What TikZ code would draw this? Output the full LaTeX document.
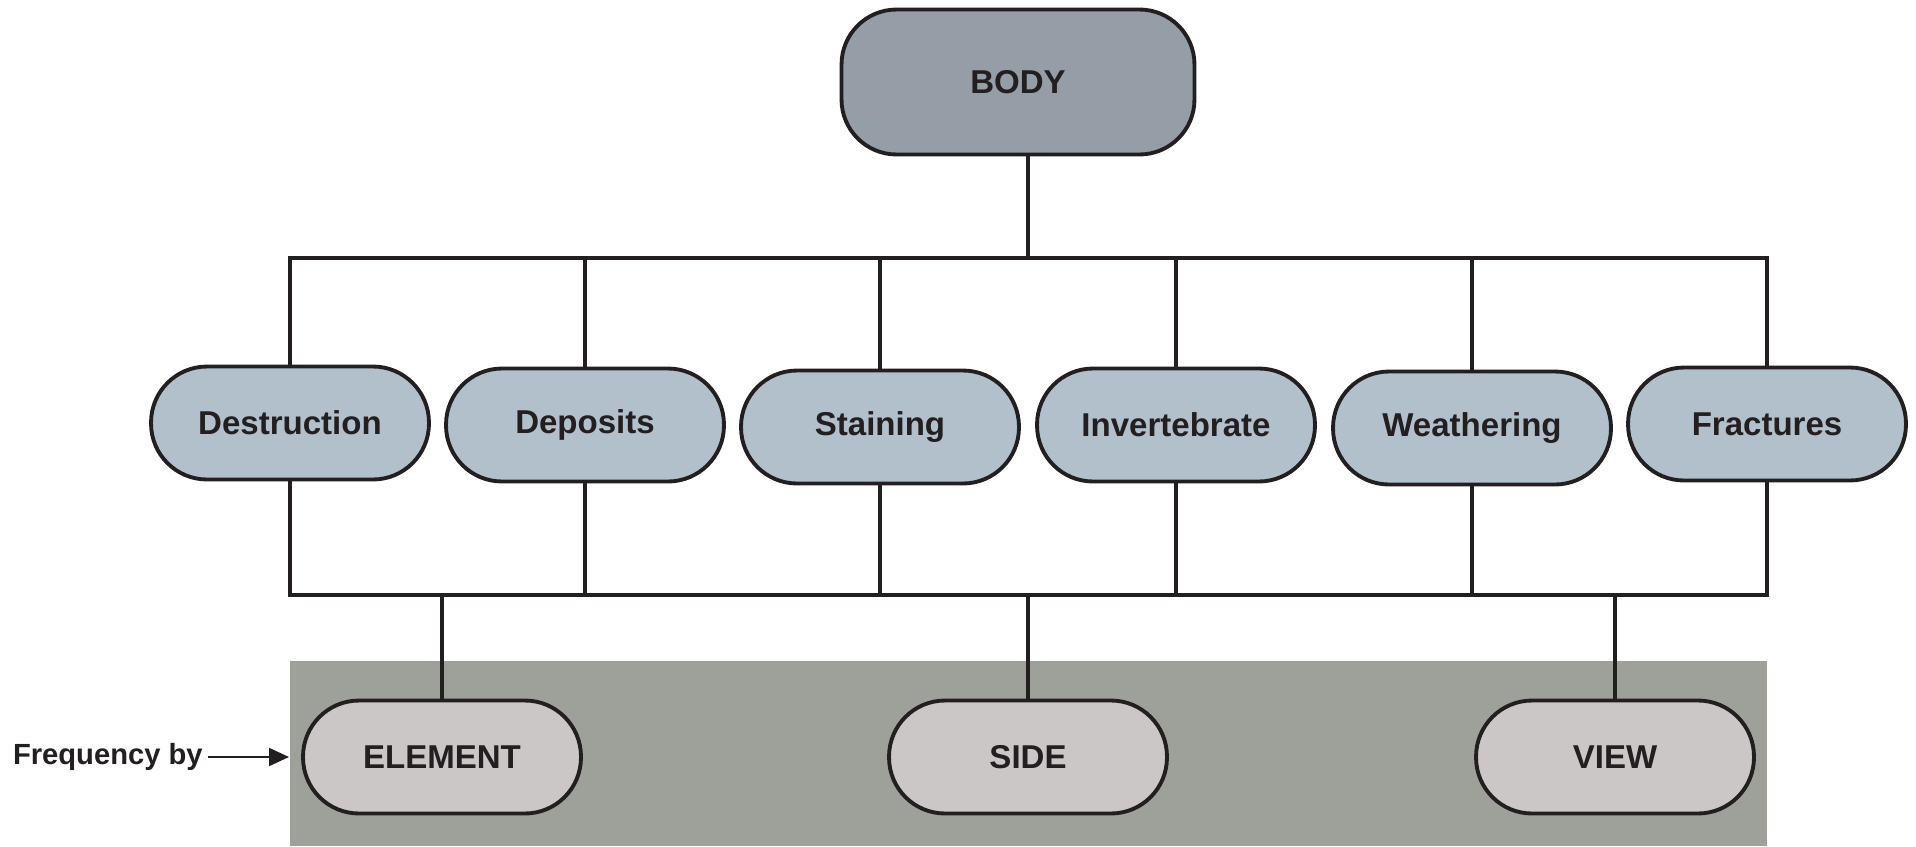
\documentclass[tikz,border=0pt]{standalone}
\usepackage{fontspec}
\setmainfont{Liberation Sans}
\usetikzlibrary{arrows.meta}

\definecolor{inkcol}{HTML}{231F20}
\definecolor{bodyfill}{HTML}{959DA7}
\definecolor{agentfill}{HTML}{B1C0CA}
\definecolor{freqfill}{HTML}{CBC7C7}
\definecolor{panelfill}{HTML}{9EA199}

\begin{document}
\begin{tikzpicture}[x=0.02cm,y=-0.02cm,
	pill/.style={draw=inkcol,line width=2.2pt,rounded corners=1.12cm,minimum width=5.56cm,minimum height=2.26cm,text=inkcol,font=\bfseries\fontsize{18.8}{22}\selectfont},
	agent/.style={pill,fill=agentfill},
	freqby/.style={pill,fill=freqfill},
	wire/.style={draw=inkcol,line width=2pt}]
		\useasboundingbox (0,0) rectangle (1916,846);
		\fill[white] (0,0) rectangle (1916,846);
		% shaded panel behind the bottom row
		\fill[panelfill] (290,661) rectangle (1767,846);
		\coordinate (panelw) at (289,757);

		\draw (1018,82) 	node (body) [pill,fill=bodyfill,minimum width=7.06cm,minimum height=2.9cm,rounded corners=1.1cm] {BODY};

		\draw (290,423) 	node (destr) [agent] {Destruction};
		\draw (585,425) 	node (depos) [agent] {Deposits};
		\draw (880,427) 	node (stain) [agent] {Staining};
		\draw (1176,425) 	node (invert) [agent] {Invertebrate};
		\draw (1472,428) 	node (weath) [agent] {Weathering};
		\draw (1767,424) 	node (fract) [agent] {Fractures};

		\draw (442,757) 	node (element) [freqby] {ELEMENT};
		\draw (1028,757) 	node (side) [freqby] {SIDE};
		\draw (1615,757) 	node (view) [freqby] {VIEW};

		\draw (203,757) 	node (freq) [anchor=east,inner sep=0pt,text=inkcol,font=\bfseries\fontsize{16.6}{20}\selectfont] {Frequency by};

		% buses
		\coordinate (topbus) at (0,258);
		\coordinate (botbus) at (0,595);
		\draw[wire] ([xshift=0.2cm]body.south) -- ([xshift=0.2cm]body.south |- topbus);
		\draw[wire,line cap=rect] (destr.north |- topbus) -- (fract.north |- topbus);
		\draw[wire,line cap=rect] (destr.south |- botbus) -- (fract.south |- botbus);
		\foreach \n in {destr,depos,stain,invert,weath,fract} {
			\draw[wire] (\n.north) -- (\n.north |- topbus);
			\draw[wire] (\n.south) -- (\n.south |- botbus);
		}
		\foreach \n in {element,side,view}
			\draw[wire] (\n.north) -- (\n.north |- botbus);

		\draw[draw=inkcol,line width=1.2pt,-{Triangle[length=0.4cm,width=0.36cm]}] ([xshift=0.1cm]freq.east) -- (panelw);
	\end{tikzpicture}
\end{document}
